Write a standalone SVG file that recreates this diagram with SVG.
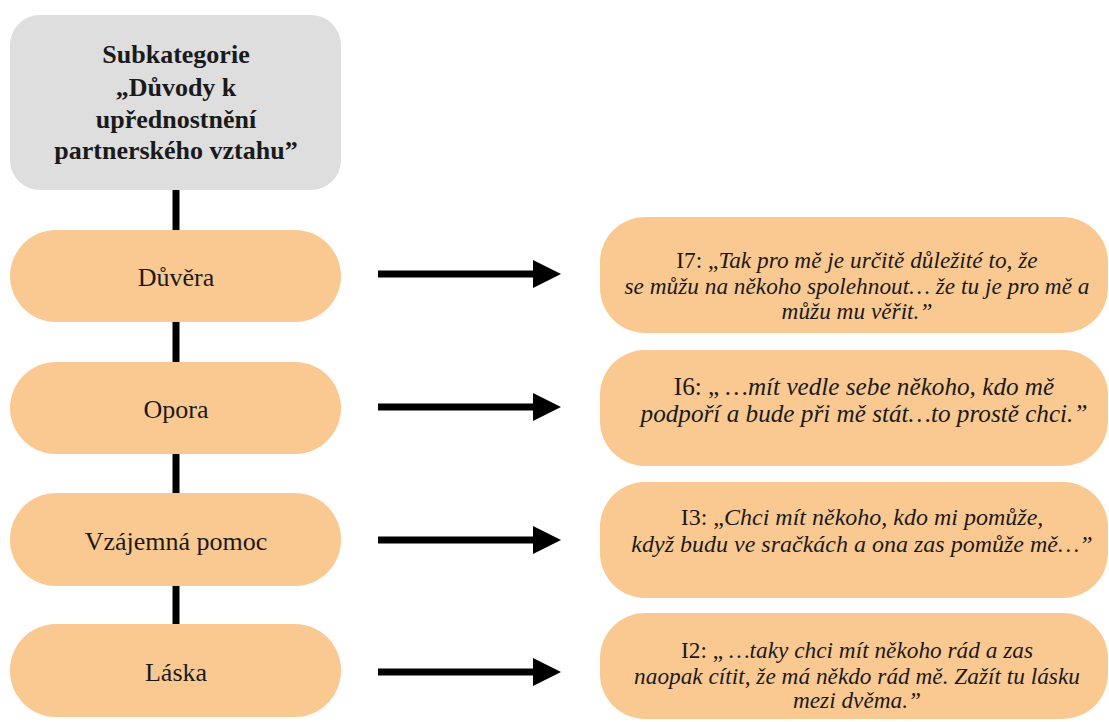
<svg xmlns="http://www.w3.org/2000/svg" width="1109" height="722" viewBox="0 0 1109 722">
<style>
.hdr{fill:#dedede}
.pill{fill:#fac991}
.quote{fill:#fac991}
.t{font-family:"Liberation Serif","Times New Roman",serif;fill:#1a1a1a;text-anchor:middle}
.hb{font-size:26px;font-weight:bold}
.pt{font-size:26px}
.q{font-size:23.3px;font-style:italic}
.q2{font-size:25.2px}
.q3{font-size:24px}
.up{font-style:normal}
.conn{stroke:#000;stroke-width:7;fill:none}
.arr{stroke:#000;stroke-width:7;fill:none}
</style>
<defs>
<marker id="ah" markerWidth="28" markerHeight="28" viewBox="0 0 28 28" refX="0" refY="14" markerUnits="userSpaceOnUse" orient="auto">
<path d="M0,0 L28,14 L0,28 Z" fill="#000"/>
</marker>
</defs>
<rect width="1109" height="722" fill="#fff"/>
<g id="connectors">
<line class="conn" x1="176" y1="190" x2="176" y2="230"/>
<line class="conn" x1="176" y1="322" x2="176" y2="362"/>
<line class="conn" x1="176" y1="454" x2="176" y2="493"/>
<line class="conn" x1="176" y1="586" x2="176" y2="624"/>
<line class="arr" x1="378" y1="274" x2="533" y2="274" marker-end="url(#ah)"/>
<line class="arr" x1="378" y1="407" x2="533" y2="407" marker-end="url(#ah)"/>
<line class="arr" x1="378" y1="540" x2="533" y2="540" marker-end="url(#ah)"/>
<line class="arr" x1="378" y1="672" x2="533" y2="672" marker-end="url(#ah)"/>
</g>
<g id="header">
<rect class="hdr" x="10" y="15" width="331" height="175" rx="30"/>
<text class="t hb" x="176" y="63">Subkategorie</text>
<text class="t hb" x="176" y="96">„Důvody k</text>
<text class="t hb" x="176" y="128">upřednostnění</text>
<text class="t hb" x="176" y="159">partnerského vztahu”</text>
</g>
<g id="n-duvera">
<rect class="pill" x="10" y="230" width="331" height="92" rx="46"/>
<text class="t pt" x="176" y="286">Důvěra</text>
</g>
<g id="n-opora">
<rect class="pill" x="10" y="362" width="331" height="92" rx="46"/>
<text class="t pt" x="176" y="418">Opora</text>
</g>
<g id="n-pomoc">
<rect class="pill" x="10" y="493" width="331" height="93" rx="46"/>
<text class="t pt" x="176" y="550">Vzájemná pomoc</text>
</g>
<g id="n-laska">
<rect class="pill" x="10" y="624" width="331" height="93" rx="46"/>
<text class="t pt" x="176" y="681">Láska</text>
</g>
<g id="q-i7">
<rect class="quote" x="600" y="217" width="508" height="116" rx="45"/>
<text class="t q" x="857" y="268"><tspan class="up">I7: „</tspan>Tak pro mě je určitě důležité to, že</text>
<text class="t q" x="857" y="294">se můžu na někoho spolehnout… že tu je pro mě a</text>
<text class="t q" x="857" y="319">můžu mu věřit.”</text>
</g>
<g id="q-i6">
<rect class="quote" x="600" y="350" width="508" height="116" rx="45"/>
<text class="t q q2" x="864" y="395"><tspan class="up">I6: „ </tspan>…mít vedle sebe někoho, kdo mě</text>
<text class="t q q2" x="864" y="422">podpoří a bude při mě stát…to prostě chci.”</text>
</g>
<g id="q-i3">
<rect class="quote" x="600" y="482" width="508" height="116" rx="45"/>
<text class="t q q3" x="862" y="525"><tspan class="up">I3: „</tspan>Chci mít někoho, kdo mi pomůže,</text>
<text class="t q q3" x="862" y="552">když budu ve sračkách a ona zas pomůže mě…”</text>
</g>
<g id="q-i2">
<rect class="quote" x="600" y="613" width="508" height="106" rx="45"/>
<text class="t q" x="857" y="658"><tspan class="up">I2: „ </tspan>…taky chci mít někoho rád a zas</text>
<text class="t q" x="857" y="684">naopak cítit, že má někdo rád mě. Zažít tu lásku</text>
<text class="t q" x="857" y="708">mezi dvěma.”</text>
</g>
</svg>
